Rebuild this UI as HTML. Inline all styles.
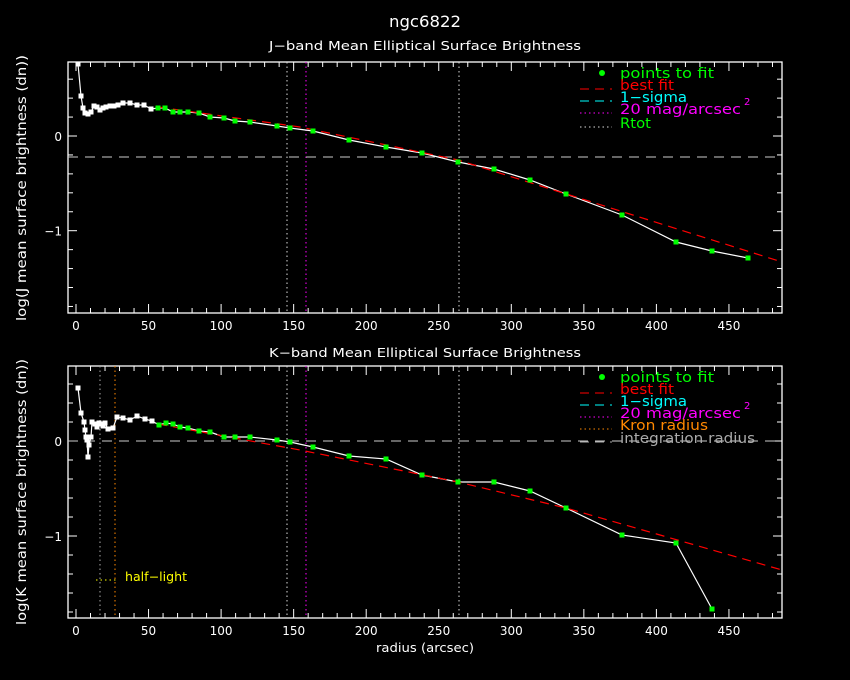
<!DOCTYPE html>
<html><head><meta charset="utf-8"><style>
body{margin:0;background:#000;}
svg{display:block;font-family:"DejaVu Sans","Liberation Sans",sans-serif;}
</style></head><body>
<svg id="s" width="850" height="680" xmlns="http://www.w3.org/2000/svg">
<rect width="850" height="680" fill="#000"/>
<text x="425" y="27" fill="#fff" font-size="16" text-anchor="middle" textLength="72" lengthAdjust="spacingAndGlyphs">ngc6822</text>
<text x="425" y="50" fill="#fff" font-size="12" text-anchor="middle" textLength="312" lengthAdjust="spacingAndGlyphs">J−band Mean Elliptical Surface Brightness</text>
<text x="425" y="357" fill="#fff" font-size="12" text-anchor="middle" textLength="312" lengthAdjust="spacingAndGlyphs">K−band Mean Elliptical Surface Brightness</text>
<text x="425" y="652" fill="#fff" font-size="12" text-anchor="middle" textLength="98" lengthAdjust="spacingAndGlyphs">radius (arcsec)</text>
<text transform="translate(26,188) rotate(-90)" fill="#fff" font-size="13" text-anchor="middle" textLength="266" lengthAdjust="spacingAndGlyphs">log(J mean surface brightness (dn))</text>
<text transform="translate(26,492) rotate(-90)" fill="#fff" font-size="13" text-anchor="middle" textLength="266" lengthAdjust="spacingAndGlyphs">log(K mean surface brightness (dn))</text>
<g id="g"></g>
</svg>
<script>
const NS="http://www.w3.org/2000/svg",g=document.getElementById('g');
function el(t,a,txt){const e=document.createElementNS(NS,t);for(const k in a)e.setAttribute(k,a[k]);if(txt!==undefined)e.textContent=txt;g.appendChild(e);return e;}
const X=r=>76+r*1.451;
function panel(top,bot,y0,sc,ymin,ymax){
 el('rect',{x:68,y:top,width:714,height:bot-top,fill:'none',stroke:'#fff','stroke-width':1.3});
 for(let r=0;r<=480;r+=10){const x=X(r),L=r%50==0?9:5;
  el('line',{x1:x,y1:bot,x2:x,y2:bot-L,stroke:'#fff'});el('line',{x1:x,y1:top,x2:x,y2:top+L,stroke:'#fff'});
  if(r%50==0)el('text',{x:x,y:bot+17,fill:'#fff','font-size':12,'text-anchor':'middle'},r);}
 for(let v=ymin;v<=ymax+1e-6;v+=0.2){const y=y0-v*sc;if(y<top||y>bot)continue;const maj=Math.abs(v-Math.round(v))<1e-6,L=maj?9:5;
  el('line',{x1:68,y1:y,x2:68+L,y2:y,stroke:'#fff'});el('line',{x1:782,y1:y,x2:782-L,y2:y,stroke:'#fff'});
  if(maj)el('text',{x:62,y:y+5,fill:'#fff','font-size':12,'text-anchor':'end'},Math.round(v)==0?'0':'−1');}
}
panel(62,313,136,94.7,-1.8,0.8);
panel(366,618,441,95,-1.8,0.8);
function vl(x,t,b,c){el('line',{x1:x,y1:t,x2:x,y2:b,stroke:c,'stroke-dasharray':'1.5,3'});}
vl(287,62,313,'#ddd');vl(306,62,313,'#f0f');vl(459,62,313,'#ddd');
vl(100,366,618,'#aaa');vl(115,366,618,'#f80');vl(287,366,618,'#ddd');vl(306,366,618,'#f0f');vl(459,366,618,'#ddd');
el('line',{x1:68,y1:157,x2:782,y2:157,stroke:'#ccc','stroke-dasharray':'10,7'});
el('line',{x1:68,y1:441,x2:782,y2:441,stroke:'#ccc','stroke-dasharray':'10,7'});
function series(pts,fit){
 el('polyline',{points:pts.map(p=>p.join(',')).join(' '),fill:'none',stroke:'#fff','stroke-width':1.2});
 el('polyline',{points:fit.map(p=>p.join(',')).join(' '),fill:'none',stroke:'#f00','stroke-width':1.2,'stroke-dasharray':'9,6'});
 pts.forEach(p=>el('rect',{x:p[0]-2.5,y:p[1]-2.5,width:5,height:5,fill:p[0]>=156?'#0f0':'#fff'}));
}
series([[78,64],[81,96],[83,108],[85,113],[88,114],[91,112],[94,106],[97,107],[100,110],[103,108],[106,107],[110,106],[114,106],[118,105],[123,103],[130,103],[137,105],[144,105],[151,109],[158,108],[165,108],[173,112],[180,112],[188,112],[199,113],[210,117],[224,118],[235,121],[250,122],[277,126],[290,128],[313,131],[349,140],[386,147],[422,153],[458,162],[494,169],[530,180],[566,194],[622,215],[676,242],[712,251],[748,258]],
 [[158,107],[300,127],[458,160],[560,192],[782,262]]);
series([[78,388],[81,413],[84,422],[85,430],[86,437],[87,440],[88,457],[89,445],[91,437],[92,422],[95,424],[97,427],[99,423],[101,424],[103,426],[105,423],[108,429],[113,428],[117,417],[123,418],[130,420],[137,416],[145,419],[152,421],[159,425],[166,423],[173,424],[180,427],[188,428],[199,431],[210,432],[224,437],[235,437],[250,437],[277,440],[290,442],[313,447],[349,456],[386,459],[422,475],[458,482],[494,482],[530,491],[566,508],[622,535],[676,543],[712,609]],
 [[158,424],[300,450],[458,482],[566,508],[782,570]]);
function leg(y,txt,col,sym,sc,w){
 if(sym=='pt')el('circle',{cx:602,cy:y-4,r:3,fill:'#0f0'});
 else el('line',{x1:580,y1:y,x2:612,y2:y,stroke:sc,'stroke-dasharray':sym});
 return el('text',{x:620,y:y+1,fill:col,'font-size':14,textLength:w,lengthAdjust:'spacingAndGlyphs'},txt);}
leg(77,'points to fit','#0f0','pt',null,94);leg(89,'best fit','#f00','9,6','#f00',54);leg(101,'1−sigma','#0ff','9,6','#0ff',67);
leg(113,'20 mag/arcsec','#f0f','1.5,3','#f0f',121);el('text',{x:744,y:105,fill:'#f0f','font-size':10},'2');
leg(127,'Rtot','#0f0','1.5,3','#ddd',31);
leg(381,'points to fit','#0f0','pt',null,94);leg(393,'best fit','#f00','9,6','#f00',54);leg(405,'1−sigma','#0ff','9,6','#0ff',67);
leg(417,'20 mag/arcsec','#f0f','1.5,3','#f0f',121);el('text',{x:744,y:409,fill:'#f0f','font-size':10},'2');
leg(429,'Kron radius','#f80','1.5,3','#f80',88);leg(442,'integration radius','#aaa','9,6','#aaa',135);
el('line',{x1:96,y1:580,x2:117,y2:580,stroke:'#ff0','stroke-dasharray':'1.5,3'});
el('text',{x:125,y:581,fill:'#ff0','font-size':12,textLength:62,lengthAdjust:'spacingAndGlyphs'},'half−light');
</script>
</body></html>
